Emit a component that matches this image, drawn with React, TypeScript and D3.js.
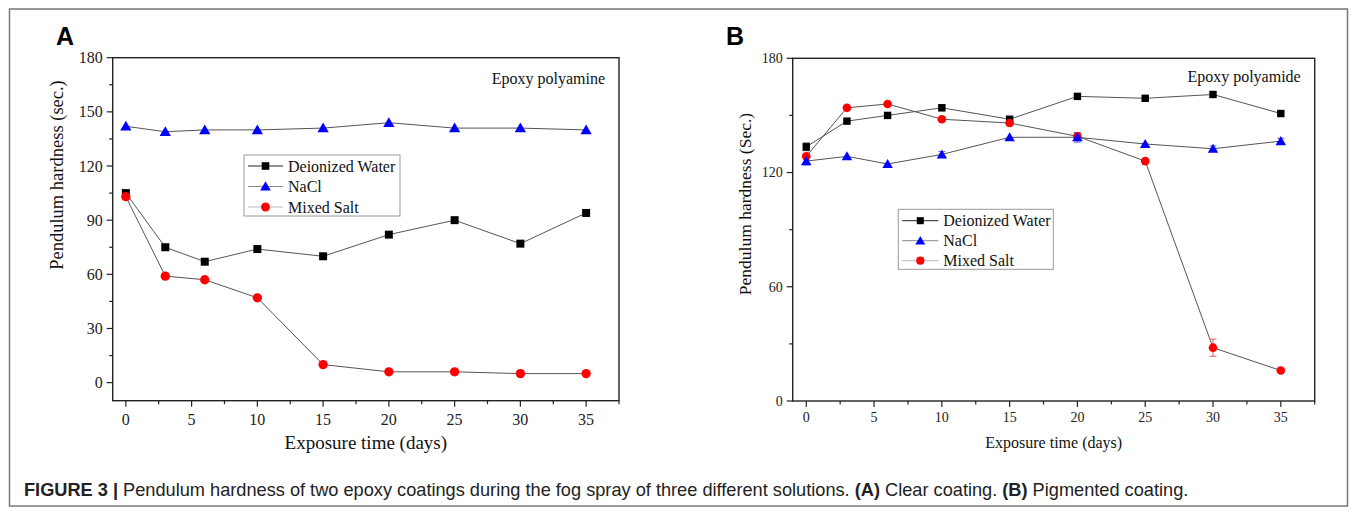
import React from "react";
import * as d3 from "d3";

const W = 1355;
const H = 513;

// exposure days (x values, same for both panels)
const days = [0, 3, 6, 10, 15, 20, 25, 30, 35];
const seriesNames = ["Deionized Water", "NaCl", "Mixed Salt"];

// panel A - clear coating (epoxy polyamine)
const aDeionized = [105, 75, 67, 74, 70, 82, 90, 77, 94];
const aNaCl = [142, 139, 140, 140, 141, 144, 141, 141, 140];
const aMixed = [103, 59, 57, 47, 10, 6, 6, 5, 5];

// panel B - pigmented coating (epoxy polyamide)
const bDeionized = [133.5, 147, 150, 154, 148, 160, 159, 161, 151];
const bNaCl = [126, 128.5, 124.5, 129.5, 138.5, 138.5, 135, 132.5, 136.5];
const bMixed = [128.5, 154, 156, 148, 146, 139, 126, 28, 16];
const bDeionizedErr = [2, 1, 1, 1.5, 1, 1, 1, 1, 1];
const bNaClErr = [2, 1, 1, 1.5, 1, 2.5, 1, 1.5, 1.5];
const bMixedErr = [1, 1, 1, 1, 1, 1, 1, 4.5, 1];

const aYTicks = [0, 30, 60, 90, 120, 150, 180];
const aYMinor = [15, 45, 75, 105, 135, 165];
const bYTicks = [0, 60, 120, 180];
const bYMinor = [30, 90, 150];
const xTicks = [0, 5, 10, 15, 20, 25, 30, 35];
const xMinor = [2.5, 7.5, 12.5, 17.5, 22.5, 27.5, 32.5, 37.5];

const serif = "Liberation Serif, Times New Roman, serif";
const sans = "Liberation Sans, Arial, sans-serif";

const colors = ["#000000", "#0000ff", "#ff0000"];
const legendLineColors = ["#222222", "#888888", "#bbbbbb"];

const symbolFor = (i, scale) => {
  const shapes = [d3.symbolSquare, d3.symbolTriangle, d3.symbolCircle];
  const sizes = [58, 50, 62];
  return d3.symbol().type(shapes[i]).size(sizes[i] * scale)();
};

function Panel({ p }) {
  const x = d3.scaleLinear().domain([-1, 37.5]).range([p.left, p.right]);
  const y = d3.scaleLinear().domain(p.yDomain).range([p.bottom, p.top]);
  const line = d3
    .line()
    .x((_, i) => x(days[i]))
    .y((d) => y(d));
  const order = [0, 2, 1];

  return (
    <g>
      <text x={p.labelX} y={45} style={{ fontFamily: sans }} fontWeight="bold" fontSize={25}>
        {p.label}
      </text>
      {/* box */}
      <rect
        x={p.left}
        y={p.top}
        width={p.right - p.left}
        height={p.bottom - p.top}
        fill="none"
        stroke="#222"
        strokeWidth={1.4}
      />
      {/* y axis ticks */}
      {p.yTicks.map((t) => (
        <g key={"y" + t}>
          <line x1={p.left - 6} x2={p.left} y1={y(t)} y2={y(t)} stroke="#222" strokeWidth={1.2} />
          <text
            x={p.left - 10}
            y={y(t)}
            dy="0.35em"
            textAnchor="end"
            style={{ fontFamily: serif }}
            fontSize={p.tickFont}
            fill="#222"
          >
            {t}
          </text>
        </g>
      ))}
      {p.yMinor.map((t) => (
        <line key={"ym" + t} x1={p.left - 3.5} x2={p.left} y1={y(t)} y2={y(t)} stroke="#222" strokeWidth={1.2} />
      ))}
      {xTicks.map((t) => (
        <g key={"x" + t}>
          <line x1={x(t)} x2={x(t)} y1={p.bottom} y2={p.bottom + 6} stroke="#222" strokeWidth={1.2} />
          <text
            x={x(t)}
            y={p.bottom + p.xLabelOffset}
            textAnchor="middle"
            style={{ fontFamily: serif }}
            fontSize={p.tickFont}
            fill="#222"
          >
            {t}
          </text>
        </g>
      ))}
      {xMinor.map((t) => (
        <line key={"xm" + t} x1={x(t)} x2={x(t)} y1={p.bottom} y2={p.bottom + 3.5} stroke="#222" strokeWidth={1.2} />
      ))}
      {/* axis titles */}
      <text
        x={(p.left + p.right) / 2}
        y={p.xTitleY}
        textAnchor="middle"
        style={{ fontFamily: serif }}
        fontSize={p.xTitleFont}
        fill="#111"
      >
        Exposure time (days)
      </text>
      <text
        transform={`translate(${p.yTitleX},${p.yTitleCy}) rotate(-90)`}
        textAnchor="middle"
        dy="0.35em"
        style={{ fontFamily: serif }}
        fontSize={p.yTitleFont}
        fill="#111"
      >
        {p.yTitle}
      </text>
      <text
        x={p.right - 14}
        y={p.noteY}
        textAnchor="end"
        style={{ fontFamily: serif }}
        fontSize={p.noteFont}
        fill="#111"
      >
        {p.note}
      </text>
      {/* lines */}
      {p.series.map((s, i) => (
        <path key={"l" + i} d={line(s)} fill="none" stroke="#555" strokeWidth={1} />
      ))}
      {/* error bars */}
      {p.errors &&
        order.map((si) =>
          p.errors[si].map((e, j) =>
            e > 1.2 ? (
              <g key={"e" + si + "-" + j} stroke={si === 0 ? "#333" : si === 1 ? "#5566dd" : "#e06060"} strokeWidth={1}>
                <line x1={x(days[j])} x2={x(days[j])} y1={y(p.series[si][j] - e)} y2={y(p.series[si][j] + e)} />
                <line x1={x(days[j]) - 3.5} x2={x(days[j]) + 3.5} y1={y(p.series[si][j] - e)} y2={y(p.series[si][j] - e)} />
                <line x1={x(days[j]) - 3.5} x2={x(days[j]) + 3.5} y1={y(p.series[si][j] + e)} y2={y(p.series[si][j] + e)} />
              </g>
            ) : null
          )
        )}
      {/* markers */}
      {order.map((si) =>
        p.series[si].map((v, j) => (
          <path
            key={"m" + si + "-" + j}
            d={symbolFor(si, p.markerScale)}
            transform={`translate(${x(days[j])},${y(v) + (si === 1 ? 1 : 0)})`}
            fill={colors[si]}
          />
        ))
      )}
      {/* legend */}
      <rect
        x={p.legend.x}
        y={p.legend.y}
        width={p.legend.w}
        height={p.legend.h}
        fill="#fff"
        stroke="#999"
        strokeWidth={1}
      />
      {seriesNames.map((name, i) => {
        const cy = p.legend.y + p.legend.first + i * p.legend.step;
        const lx = p.legend.x + 4;
        return (
          <g key={name}>
            <line x1={lx} x2={lx + p.legend.lineLen} y1={cy} y2={cy} stroke={legendLineColors[i]} strokeWidth={1} />
            <path
              d={symbolFor(i, p.markerScale * 0.9)}
              transform={`translate(${lx + p.legend.lineLen / 2},${cy + (i === 1 ? 1 : 0)})`}
              fill={colors[i]}
            />
            <text
              x={lx + p.legend.lineLen + 5}
              y={cy}
              dy="0.35em"
              style={{ fontFamily: serif }}
              fontSize={16}
              fill="#111"
            >
              {name}
            </text>
          </g>
        );
      })}
    </g>
  );
}

const panelA = {
  label: "A",
  labelX: 56,
  left: 112.7,
  right: 619,
  top: 57.7,
  bottom: 400.7,
  yDomain: [-10, 180],
  yTicks: aYTicks,
  yMinor: aYMinor,
  tickFont: 16,
  xLabelOffset: 24,
  xTitleY: 449,
  xTitleFont: 19,
  yTitle: "Pendulum hardness (sec.)",
  yTitleX: 57,
  yTitleCy: 175,
  yTitleFont: 18.5,
  note: "Epoxy polyamine",
  noteY: 84,
  noteFont: 16,
  series: [aDeionized, aNaCl, aMixed],
  errors: null,
  markerScale: 1.1,
  legend: { x: 244, y: 155, w: 156, h: 61, first: 11, step: 20.5, lineLen: 35 },
};

const panelB = {
  label: "B",
  labelX: 726,
  left: 792.7,
  right: 1314.7,
  top: 58.3,
  bottom: 401,
  yDomain: [0, 180],
  yTicks: bYTicks,
  yMinor: bYMinor,
  tickFont: 14,
  xLabelOffset: 21,
  xTitleY: 448,
  xTitleFont: 16,
  yTitle: "Pendulum hardness (Sec.)",
  yTitleX: 745,
  yTitleCy: 204,
  yTitleFont: 17.5,
  note: "Epoxy polyamide",
  noteY: 82,
  noteFont: 16,
  series: [bDeionized, bNaCl, bMixed],
  errors: [bDeionizedErr, bNaClErr, bMixedErr],
  markerScale: 0.95,
  legend: { x: 898.3, y: 209.3, w: 155, h: 60, first: 11.4, step: 20, lineLen: 36 },
};

export default function App() {
  return (
    <svg
      width={W}
      height={H}
      style={{ position: "absolute", left: 0, top: 0, background: "#fff" }}
    >
      <rect x={0} y={0} width={W} height={H} fill="#fff" />
      <rect x={9.5} y={9} width={1338} height={497} fill="none" stroke="#777" strokeWidth={1.5} />
      <Panel p={panelA} />
      <Panel p={panelB} />
      <text x={24} y={496} style={{ fontFamily: sans }} fontSize={18.2} fill="#222">
        <tspan fontWeight="bold">FIGURE 3 | </tspan>
        <tspan>Pendulum hardness of two epoxy coatings during the fog spray of three different solutions. </tspan>
        <tspan fontWeight="bold">(A)</tspan>
        <tspan> Clear coating. </tspan>
        <tspan fontWeight="bold">(B)</tspan>
        <tspan> Pigmented coating.</tspan>
      </text>
    </svg>
  );
}
